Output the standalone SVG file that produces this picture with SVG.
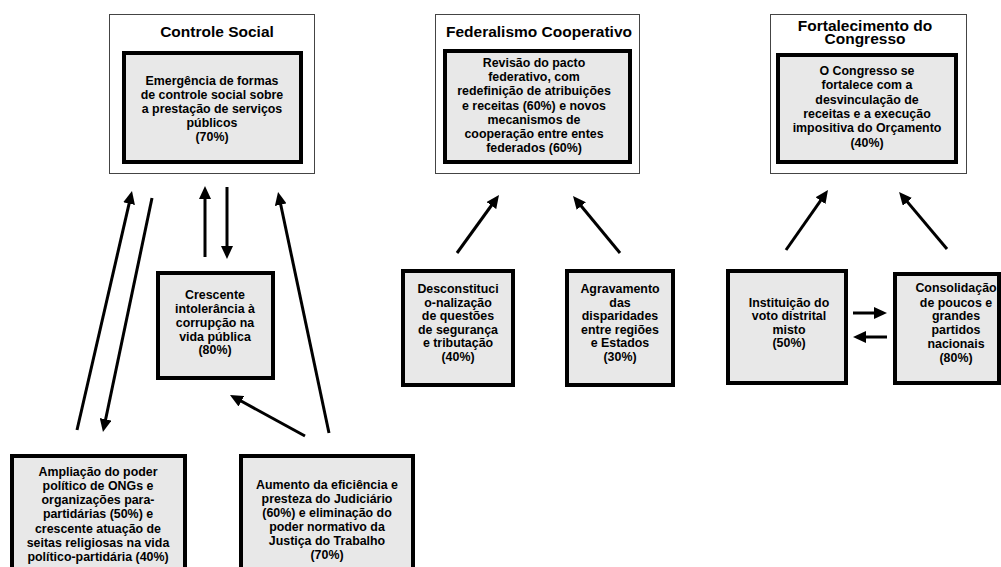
<svg xmlns="http://www.w3.org/2000/svg" width="1001" height="567" viewBox="0 0 1001 567">
<style>
text{font-family:"Liberation Sans",Arial,sans-serif;font-weight:bold;fill:#000;text-anchor:middle}
.t{font-size:15.5px}
.b{font-size:12.4px}
.outer{fill:#fff;stroke:#444;stroke-width:1}
.inner{fill:#e8e8e8;stroke:#000;stroke-width:4}
.c{stroke:#000;stroke-width:3;fill:none;marker-end:url(#ah)}
</style>
<defs>
<marker id="ah" markerUnits="userSpaceOnUse" viewBox="0 0 13 12" markerWidth="13" markerHeight="12" refX="5" refY="6" orient="auto">
<path d="M0,0 L13,6 L0,12 z" fill="#000"/>
</marker>
</defs>
<rect width="1001" height="567" fill="#fff"/>

<g id="controle-social">
<rect class="outer" x="109.5" y="14.5" width="205" height="159"/>
<text class="t" x="217" y="37">Controle Social</text>
<rect class="inner" x="124" y="53" width="177" height="109"/>
<text class="b"><tspan x="212" y="85">Emergência de formas</tspan><tspan x="212" y="99">de controle social sobre</tspan><tspan x="212" y="113">a prestação de serviços</tspan><tspan x="212" y="127">públicos</tspan><tspan x="212" y="141">(70%)</tspan></text>
</g>

<g id="federalismo">
<rect class="outer" x="435.5" y="14.5" width="204" height="159"/>
<text class="t" x="539" y="37">Federalismo Cooperativo</text>
<rect class="inner" x="445" y="51" width="185" height="111"/>
<text class="b"><tspan x="534" y="67">Revisão do pacto</tspan><tspan x="534" y="81">federativo, com</tspan><tspan x="534" y="95">redefinição de atribuições</tspan><tspan x="534" y="110">e receitas (60%) e novos</tspan><tspan x="534" y="124">mecanismos de</tspan><tspan x="534" y="138">cooperação entre entes</tspan><tspan x="534" y="152">federados (60%)</tspan></text>
</g>

<g id="fortalecimento">
<rect class="outer" x="770.5" y="14.5" width="196" height="159"/>
<text class="t"><tspan x="865" y="31">Fortalecimento do</tspan><tspan x="865" y="44">Congresso</tspan></text>
<rect class="inner" x="778" y="55" width="178" height="107"/>
<text class="b"><tspan x="867" y="75">O Congresso se</tspan><tspan x="867" y="89">fortalece com a</tspan><tspan x="867" y="104">desvinculação de</tspan><tspan x="867" y="118">receitas e a execução</tspan><tspan x="867" y="132">impositiva do Orçamento</tspan><tspan x="867" y="147">(40%)</tspan></text>
</g>

<g id="crescente">
<rect class="inner" x="158" y="273" width="115" height="105"/>
<text class="b"><tspan x="215" y="299">Crescente</tspan><tspan x="215" y="313">intolerância à</tspan><tspan x="215" y="327">corrupção na</tspan><tspan x="215" y="341">vida pública</tspan><tspan x="215" y="354">(80%)</tspan></text>
</g>

<g id="desconstitucionalizacao">
<rect class="inner" x="403" y="271" width="110" height="114"/>
<text class="b"><tspan x="458" y="293">Desconstituci</tspan><tspan x="458" y="307">o-nalização</tspan><tspan x="458" y="320">de questões</tspan><tspan x="458" y="334">de segurança</tspan><tspan x="458" y="347">e tributação</tspan><tspan x="458" y="361">(40%)</tspan></text>
</g>

<g id="agravamento">
<rect class="inner" x="567" y="271" width="106" height="114"/>
<text class="b"><tspan x="620" y="293">Agravamento</tspan><tspan x="620" y="307">das</tspan><tspan x="620" y="320">disparidades</tspan><tspan x="620" y="334">entre regiões</tspan><tspan x="620" y="347">e Estados</tspan><tspan x="620" y="361">(30%)</tspan></text>
</g>

<g id="voto-distrital">
<rect class="inner" x="728" y="271" width="118" height="112"/>
<text class="b"><tspan x="789" y="307">Instituição do</tspan><tspan x="789" y="320">voto distrital</tspan><tspan x="789" y="334">misto</tspan><tspan x="789" y="347">(50%)</tspan></text>
</g>

<g id="consolidacao">
<rect class="inner" x="895" y="274" width="104" height="109"/>
<text class="b"><tspan x="956" y="292">Consolidação</tspan><tspan x="956" y="307">de poucos e</tspan><tspan x="956" y="320">grandes</tspan><tspan x="956" y="334">partidos</tspan><tspan x="956" y="348">nacionais</tspan><tspan x="956" y="362">(80%)</tspan></text>
</g>

<g id="ampliacao">
<rect class="inner" x="12" y="456" width="173" height="130"/>
<text class="b"><tspan x="98" y="476">Ampliação do poder</tspan><tspan x="98" y="490">político de ONGs e</tspan><tspan x="98" y="504">organizações para-</tspan><tspan x="98" y="518">partidárias (50%) e</tspan><tspan x="98" y="533">crescente atuação de</tspan><tspan x="98" y="547">seitas religiosas na vida</tspan><tspan x="98" y="561">político-partidária  (40%)</tspan></text>
</g>

<g id="aumento">
<rect class="inner" x="241" y="456" width="172" height="130"/>
<text class="b"><tspan x="327" y="489">Aumento da eficiência e</tspan><tspan x="327" y="503">presteza do Judiciário</tspan><tspan x="327" y="517">(60%) e eliminação do</tspan><tspan x="327" y="531">poder normativo da</tspan><tspan x="327" y="545">Justiça do Trabalho</tspan><tspan x="327" y="559">(70%)</tspan></text>
</g>

<g id="connectors">
<line class="c" x1="77" y1="430" x2="130.2" y2="198.8"/>
<line class="c" x1="152" y1="198" x2="104.6" y2="424.2"/>
<line class="c" x1="205" y1="257" x2="205" y2="194"/>
<line class="c" x1="227" y1="187" x2="227" y2="251"/>
<line class="c" x1="305" y1="436" x2="237" y2="398.8"/>
<line class="c" x1="329" y1="433" x2="279.7" y2="199.8"/>
<line class="c" x1="457" y1="253" x2="494.3" y2="201.5"/>
<line class="c" x1="620" y1="253" x2="578.1" y2="202.2"/>
<line class="c" x1="786" y1="250" x2="823.4" y2="196.6"/>
<line class="c" x1="947" y1="249" x2="904.2" y2="198.1"/>
<line class="c" x1="853" y1="313" x2="879" y2="313"/>
<line class="c" x1="887" y1="337" x2="861" y2="337"/>
</g>
</svg>
